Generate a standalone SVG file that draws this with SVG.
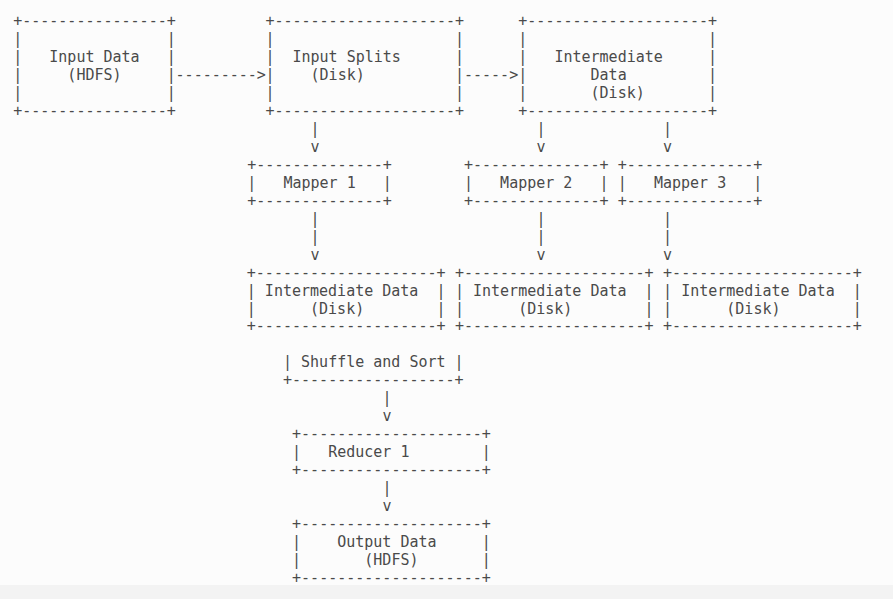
<svg xmlns="http://www.w3.org/2000/svg" width="893" height="599" viewBox="0 0 893 599" xml:space="preserve">
<style>
text{font-family:"DejaVu Sans Mono","Liberation Mono",monospace;font-size:15px;fill:#4a4a4a;white-space:pre}
</style>
<rect x="0" y="0" width="893" height="599" fill="#fcfcfc"/>
<rect x="0" y="585" width="893" height="14" fill="#f3f3f3"/>
<g id="input-data">
<text x="13.2" y="25.7">+----------------+</text>
<text x="13.2" y="43.7">|                |</text>
<text x="13.2" y="61.7">|   Input Data   |</text>
<text x="13.2" y="79.65">|     (HDFS)     |</text>
<text x="13.2" y="97.6">|                |</text>
<text x="13.2" y="115.6">+----------------+</text>
</g>
<g id="input-splits">
<text x="265.4" y="25.7">+--------------------+</text>
<text x="265.4" y="43.7">|                    |</text>
<text x="265.4" y="61.7">|  Input Splits      |</text>
<text x="265.4" y="79.65">|    (Disk)          |</text>
<text x="265.4" y="97.6">|                    |</text>
<text x="265.4" y="115.6">+--------------------+</text>
</g>
<g id="intermediate-data-top">
<text x="518.3" y="25.7">+--------------------+</text>
<text x="518.3" y="43.7">|                    |</text>
<text x="518.3" y="61.7">|   Intermediate     |</text>
<text x="518.3" y="79.65">|       Data         |</text>
<text x="518.3" y="97.6">|       (Disk)       |</text>
<text x="518.3" y="115.6">+--------------------+</text>
</g>
<g id="mapper-1">
<text x="247.3" y="169.6">+--------------+</text>
<text x="247.3" y="187.6">|   Mapper 1   |</text>
<text x="247.3" y="205.6">+--------------+</text>
</g>
<g id="mapper-2">
<text x="464" y="169.6">+--------------+</text>
<text x="464" y="187.6">|   Mapper 2   |</text>
<text x="464" y="205.6">+--------------+</text>
</g>
<g id="mapper-3">
<text x="617.85" y="169.6">+--------------+</text>
<text x="617.85" y="187.6">|   Mapper 3   |</text>
<text x="617.85" y="205.6">+--------------+</text>
</g>
<g id="intermediate-data-1">
<text x="246.8" y="277.5">+--------------------+</text>
<text x="246.8" y="295.5">| Intermediate Data  |</text>
<text x="246.8" y="313.5">|      (Disk)        |</text>
<text x="246.8" y="331.4">+--------------------+</text>
</g>
<g id="intermediate-data-2">
<text x="454.95" y="277.5">+--------------------+</text>
<text x="454.95" y="295.5">| Intermediate Data  |</text>
<text x="454.95" y="313.5">|      (Disk)        |</text>
<text x="454.95" y="331.4">+--------------------+</text>
</g>
<g id="intermediate-data-3">
<text x="663.1" y="277.5">+--------------------+</text>
<text x="663.1" y="295.5">| Intermediate Data  |</text>
<text x="663.1" y="313.5">|      (Disk)        |</text>
<text x="663.1" y="331.4">+--------------------+</text>
</g>
<g id="shuffle-sort">
<text x="283" y="367.4">| Shuffle and Sort |</text>
<text x="283" y="385.4">+------------------+</text>
</g>
<g id="reducer-1">
<text x="292.05" y="439.4">+--------------------+</text>
<text x="292.05" y="457.3">|   Reducer 1        |</text>
<text x="292.05" y="475.3">+--------------------+</text>
</g>
<g id="output-data">
<text x="292.05" y="529.3">+--------------------+</text>
<text x="292.05" y="547.3">|    Output Data     |</text>
<text x="292.05" y="565.2">|       (HDFS)       |</text>
<text x="292.05" y="583.2">+--------------------+</text>
</g>
<g id="connectors">
<text x="175.6" y="79.65">---------&gt;</text>
<text x="464" y="79.65">-----&gt;</text>
<text x="310.6" y="133.6">|</text>
<text x="310.6" y="151.6">v</text>
<text x="536.4" y="133.6">|</text>
<text x="536.4" y="151.6">v</text>
<text x="663.1" y="133.6">|</text>
<text x="663.1" y="151.6">v</text>
<text x="310.6" y="223.5">|</text>
<text x="310.6" y="241.5">|</text>
<text x="310.6" y="259.5">v</text>
<text x="536.4" y="223.5">|</text>
<text x="536.4" y="241.5">|</text>
<text x="536.4" y="259.5">v</text>
<text x="663.1" y="223.5">|</text>
<text x="663.1" y="241.5">|</text>
<text x="663.1" y="259.5">v</text>
<text x="382.55" y="403.4">|</text>
<text x="382.55" y="421.4">v</text>
<text x="382.55" y="493.3">|</text>
<text x="382.55" y="511.3">v</text>
</g>
</svg>
